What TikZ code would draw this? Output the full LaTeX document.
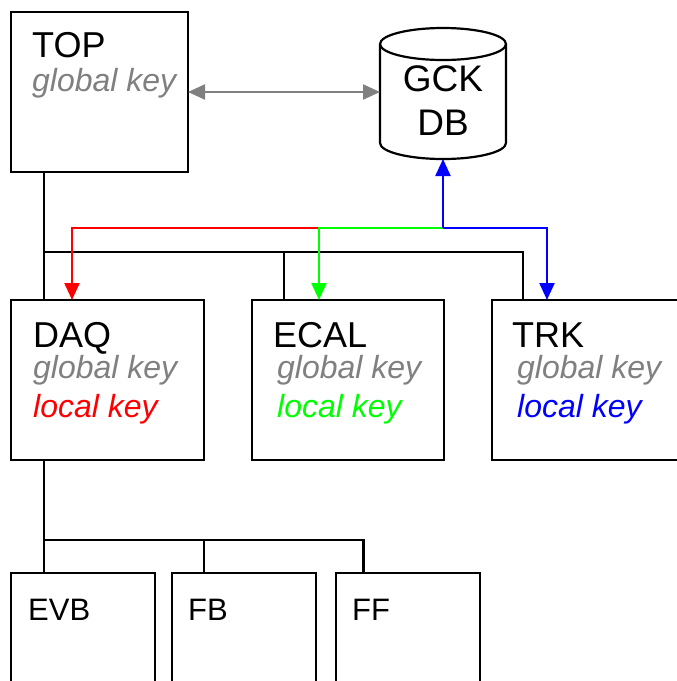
\documentclass[tikz,border=0pt]{standalone}
\usepackage{fontspec}
\setmainfont{Liberation Sans}
\usetikzlibrary{arrows.meta}
\definecolor{kgray}{HTML}{808080}
\definecolor{kred}{HTML}{FF0000}
\definecolor{kgreen}{HTML}{00FF00}
\definecolor{kblue}{HTML}{0000FF}
\begin{document}
\begin{tikzpicture}[x=1pt,y=-1pt,
  box/.style={draw=black, line width=2.2pt, rectangle, anchor=north west, outer sep=0pt, inner sep=0pt},
  big/.style={anchor=base west, inner sep=0pt, font=\fontsize{36}{40}\selectfont},
  small/.style={anchor=base west, inner sep=0pt, font=\fontsize{31}{36}\selectfont},
  keytxt/.style={anchor=base west, inner sep=0pt, font=\fontsize{32}{36}\selectfont\itshape},
  tree/.style={draw=black, line width=2.2pt},
  link/.style={line width=2.2pt, -{Triangle[length=17pt,width=15pt]}},
]
\fill[white] (0,0) rectangle (677,681);
\useasboundingbox (0,0) rectangle (677,681);

% boxes
\node[box, minimum width=177pt, minimum height=160pt] (top) at (11,12) {};
\node[box, minimum width=193pt, minimum height=160pt] (daq) at (11,300) {};
\node[box, minimum width=192pt, minimum height=160pt] (ecal) at (252,300) {};
\node[box, minimum width=220pt, minimum height=160pt] (trk) at (492,300) {};
\node[box, minimum width=144pt, minimum height=150pt] (evb) at (11,573) {};
\node[box, minimum width=144pt, minimum height=150pt] (fb) at (172,573) {};
\node[box, minimum width=144pt, minimum height=150pt] (ff) at (336,573) {};

% database cylinder
\node[inner sep=0pt, outer sep=0pt, minimum width=126pt, minimum height=131pt] (db) at (443,93.5) {};
\draw[line width=2.2pt, fill=white]
  (380,44) -- (380,143)
  .. controls (380,151.8) and (408.2,159) .. (443,159)
  .. controls (477.8,159) and (506,151.8) .. (506,143)
  -- (506,44);
\draw[line width=2.2pt, fill=white] (443,44) ellipse [x radius=63, y radius=16];

% texts
\node[big] (tTop) at (32,57) {TOP};
\node[keytxt, text=kgray] (tTopK) at (32,91) {global key};
\node[anchor=base, inner sep=0pt, font=\fontsize{37}{40}\selectfont] (tGck) at (443,91) {GCK};
\node[anchor=base, inner sep=0pt, font=\fontsize{37}{40}\selectfont] (tDb) at (443,135) {DB};

\node[big] (tDaq) at (33,347) {DAQ};
\node[keytxt, text=kgray] (tDaqG) at (33,378) {global key};
\node[keytxt, text=kred] (tDaqL) at (33,417) {local key};

\node[big] (tEcal) at (273,347) {ECAL};
\node[keytxt, text=kgray] (tEcalG) at (277,378) {global key};
\node[keytxt, text=kgreen] (tEcalL) at (277,417) {local key};

\node[big] (tTrk) at (512,347) {TRK};
\node[keytxt, text=kgray] (tTrkG) at (517,378) {global key};
\node[keytxt, text=kblue] (tTrkL) at (517,417) {local key};

\node[small] (tEvb) at (28,620) {EVB};
\node[small] (tFb) at (188,620) {FB};
\node[small] (tFf) at (352,620) {FF};

% black tree lines
\coordinate (bus) at (44,252);
\coordinate (bus2) at (44,540);
\draw[tree] ([xshift=33pt]top.south west) -- ([xshift=33pt]daq.north west);
\draw[tree] (bus) -| ([xshift=32pt]ecal.north west);
\draw[tree] (bus) -| ([xshift=31pt]trk.north west);
\draw[tree] ([xshift=33pt]daq.south west) -- ([xshift=33pt]evb.north west);
\draw[tree] (bus2) -| ([xshift=32pt]fb.north west);
\draw[tree] (bus2) -| ([xshift=27.5pt]ff.north west);

% gray link
\draw[line width=2.2pt, draw=kgray, {Triangle[length=17pt,width=15pt]}-{Triangle[length=17pt,width=15pt]}] (top.east) -- (top.east -| db.west);

% coloured key links
\coordinate (jn) at (443,228);
\coordinate (gj) at (319,228);
\draw[link, draw=kred] (gj) -| ([xshift=61pt]daq.north west);
\draw[link, draw=kgreen] (jn) -| ([xshift=67pt]ecal.north west);
\draw[link, draw=kblue] (jn) -| ([xshift=55pt]trk.north west);
\draw[link, draw=kblue] (jn) -- (db.south);
\end{tikzpicture}
\end{document}
